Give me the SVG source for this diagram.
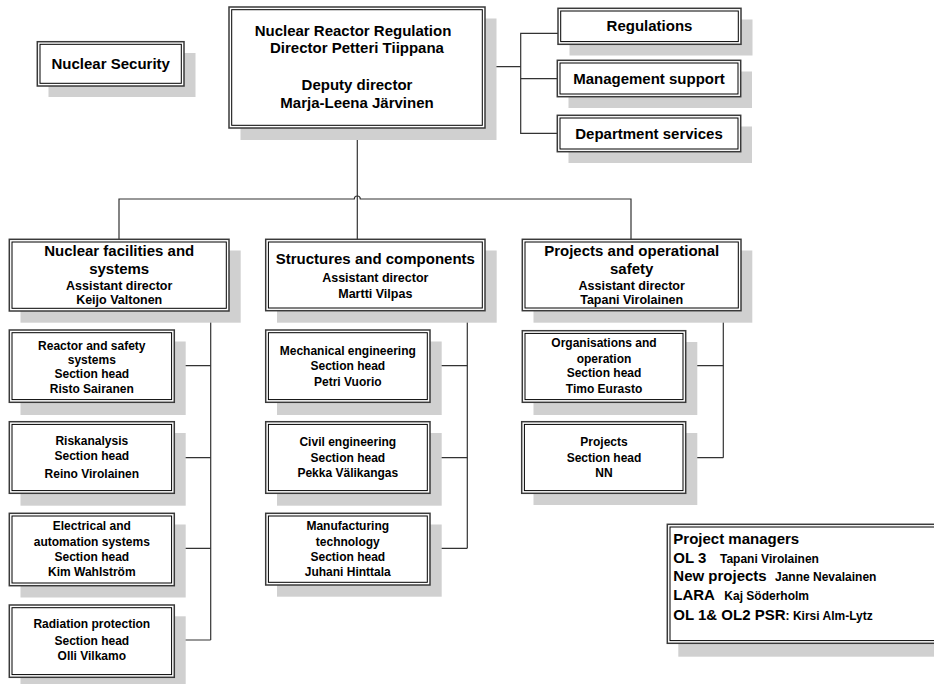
<svg xmlns="http://www.w3.org/2000/svg" width="934" height="684" viewBox="0 0 934 684">
  <style>
    .shadow { fill: #d0d0d0; }
    .frame { fill: #ffffff; stroke: #3a3a3a; stroke-width: 1.5; }
    .inner { fill: none; stroke: #000000; stroke-width: 1; }
    .wire { fill: none; stroke: #333333; stroke-width: 1.2; }
    text { font-family: "Liberation Sans", Arial, sans-serif; font-weight: bold; fill: #000000; }
    .c { text-anchor: middle; }
    .big { font-size: 15px; }
    .med { font-size: 12.5px; }
    .sm { font-size: 12px; }
  </style>

  <!-- connectors -->
  <g id="connectors">
    <!-- director to staff units -->
    <path class="wire" d="M485,66.7 H520.7"/>
    <path class="wire" d="M558,33.3 H520.7 V133.3 H557.3"/>
    <path class="wire" d="M520.7,78.7 H557.3"/>
    <!-- director to departments, with a hop where the lines cross -->
    <path class="wire" d="M357.3,128 V239.3"/>
    <path class="wire" d="M119,239.3 V199 H354.3 A3,3 0 0 1 360.3,199 H631 V239.3"/>
    <!-- Nuclear facilities and systems sections -->
    <path class="wire" d="M210.7,311 V640"/>
    <path class="wire" d="M174.3,365.7 H210.7 M174.3,457.7 H210.7 M174.3,548.3 H210.7 M174.3,640 H210.7"/>
    <!-- Structures and components sections -->
    <path class="wire" d="M467.3,310.7 V548.3"/>
    <path class="wire" d="M430,365.7 H467.3 M430,457.7 H467.3 M430,548.3 H467.3"/>
    <!-- Projects and operational safety sections -->
    <path class="wire" d="M723.3,310.7 V457.7"/>
    <path class="wire" d="M685.7,365.7 H723.3 M685.7,457.7 H723.3"/>
  </g>

  <!-- top level -->
  <g id="nuclear-security">
    <rect class="shadow" x="48.5" y="53" width="147" height="44"/>
    <rect class="frame" x="37.3" y="41.7" width="146.7" height="44.3"/>
    <rect class="inner" x="40" y="44.3" width="141.3" height="39"/>
    <text class="c big" x="110.7" y="69.3">Nuclear Security</text>
  </g>

  <g id="director">
    <rect class="shadow" x="240.5" y="18.5" width="256" height="121.5"/>
    <rect class="frame" x="229" y="7" width="256" height="121"/>
    <rect class="inner" x="231.7" y="9.7" width="250.6" height="115.6"/>
    <text class="c big" x="353" y="36">Nuclear Reactor Regulation</text>
    <text class="c big" x="357" y="53.3">Director Petteri Tiippana</text>
    <text class="c big" x="357" y="90.3">Deputy director</text>
    <text class="c big" x="357" y="108.3">Marja-Leena Järvinen</text>
  </g>

  <g id="regulations">
    <rect class="shadow" x="569.5" y="19.5" width="183" height="36"/>
    <rect class="frame" x="558" y="8.3" width="183" height="36"/>
    <rect class="inner" x="560.7" y="11" width="177.6" height="30.6"/>
    <text class="c big" x="649.5" y="31.3">Regulations</text>
  </g>

  <g id="management-support">
    <rect class="shadow" x="568.5" y="71.5" width="183.5" height="36.5"/>
    <rect class="frame" x="557.3" y="60.3" width="183.4" height="36.4"/>
    <rect class="inner" x="560" y="63" width="178" height="31"/>
    <text class="c big" x="649" y="83.6">Management support</text>
  </g>

  <g id="department-services">
    <rect class="shadow" x="568.5" y="126.5" width="183.5" height="36.5"/>
    <rect class="frame" x="557.3" y="115.3" width="183.4" height="36.4"/>
    <rect class="inner" x="560" y="118" width="178" height="31"/>
    <text class="c big" x="649" y="138.6">Department services</text>
  </g>

  <!-- departments -->
  <g id="nuclear-facilities">
    <rect class="shadow" x="20.5" y="250.5" width="220.2" height="72.2"/>
    <rect class="frame" x="9.3" y="239.3" width="219.7" height="71.7"/>
    <rect class="inner" x="12" y="242" width="214.3" height="66.3"/>
    <text class="c big" x="119.2" y="256">Nuclear facilities and</text>
    <text class="c big" x="119.2" y="274.3">systems</text>
    <text class="c med" x="119.2" y="290.4">Assistant director</text>
    <text class="c med" x="119.2" y="304.4">Keijo Valtonen</text>
  </g>

  <g id="structures-components">
    <rect class="shadow" x="277" y="250.5" width="219.7" height="72.2"/>
    <rect class="frame" x="265.7" y="239.3" width="219.3" height="71.4"/>
    <rect class="inner" x="268.4" y="242" width="213.9" height="66"/>
    <text class="c big" x="375.3" y="263.6">Structures and components</text>
    <text class="c med" x="375.3" y="281.7">Assistant director</text>
    <text class="c med" x="375.3" y="298.4">Martti Vilpas</text>
  </g>

  <g id="projects-operational-safety">
    <rect class="shadow" x="533.5" y="250.5" width="218.8" height="72.2"/>
    <rect class="frame" x="522.3" y="239.3" width="218.7" height="71.4"/>
    <rect class="inner" x="525" y="242" width="213.3" height="66"/>
    <text class="c big" x="631.7" y="256">Projects and operational</text>
    <text class="c big" x="631.7" y="274.3">safety</text>
    <text class="c med" x="631.7" y="290.4">Assistant director</text>
    <text class="c med" x="631.7" y="304.4">Tapani Virolainen</text>
  </g>

  <!-- sections: Nuclear facilities and systems -->
  <g id="reactor-safety-systems">
    <rect class="shadow" x="20.5" y="341.5" width="165.2" height="73.5"/>
    <rect class="frame" x="9.3" y="330" width="165" height="72.3"/>
    <rect class="inner" x="12" y="332.7" width="159.6" height="66.9"/>
    <text class="c sm" x="91.8" y="349.5">Reactor and safety</text>
    <text class="c sm" x="91.8" y="364">systems</text>
    <text class="c sm" x="91.8" y="378">Section head</text>
    <text class="c sm" x="91.8" y="393">Risto Sairanen</text>
  </g>

  <g id="riskanalysis">
    <rect class="shadow" x="20.5" y="433" width="165.2" height="72.7"/>
    <rect class="frame" x="9.3" y="421.7" width="165" height="71.6"/>
    <rect class="inner" x="12" y="424.4" width="159.6" height="66.2"/>
    <text class="c sm" x="91.8" y="445">Riskanalysis</text>
    <text class="c sm" x="91.8" y="459.6">Section head</text>
    <text class="c sm" x="91.8" y="477.6">Reino Virolainen</text>
  </g>

  <g id="electrical-automation">
    <rect class="shadow" x="20.5" y="524.5" width="165.2" height="73"/>
    <rect class="frame" x="9.3" y="513.3" width="165" height="72.4"/>
    <rect class="inner" x="12" y="516" width="159.6" height="67"/>
    <text class="c sm" x="91.8" y="530.3">Electrical and</text>
    <text class="c sm" x="91.8" y="546">automation systems</text>
    <text class="c sm" x="91.8" y="561">Section head</text>
    <text class="c sm" x="91.8" y="576">Kim Wahlström</text>
  </g>

  <g id="radiation-protection">
    <rect class="shadow" x="20.5" y="616.3" width="165.2" height="72"/>
    <rect class="frame" x="9.3" y="605" width="165" height="72.3"/>
    <rect class="inner" x="12" y="607.7" width="159.6" height="66.9"/>
    <text class="c sm" x="91.8" y="628.3">Radiation protection</text>
    <text class="c sm" x="91.8" y="645">Section head</text>
    <text class="c sm" x="91.8" y="660.3">Olli Vilkamo</text>
  </g>

  <!-- sections: Structures and components -->
  <g id="mechanical-engineering">
    <rect class="shadow" x="277" y="341.5" width="164.7" height="73.5"/>
    <rect class="frame" x="265.7" y="330" width="164.3" height="72.3"/>
    <rect class="inner" x="268.4" y="332.7" width="158.9" height="66.9"/>
    <text class="c sm" x="347.8" y="355.3">Mechanical engineering</text>
    <text class="c sm" x="347.8" y="370">Section head</text>
    <text class="c sm" x="347.8" y="386">Petri Vuorio</text>
  </g>

  <g id="civil-engineering">
    <rect class="shadow" x="277" y="433" width="164.7" height="72.7"/>
    <rect class="frame" x="265.7" y="421.7" width="164.3" height="71.6"/>
    <rect class="inner" x="268.4" y="424.4" width="158.9" height="66.2"/>
    <text class="c sm" x="347.8" y="446.3">Civil engineering</text>
    <text class="c sm" x="347.8" y="462">Section head</text>
    <text class="c sm" x="347.8" y="477">Pekka Välikangas</text>
  </g>

  <g id="manufacturing-technology">
    <rect class="shadow" x="277" y="524.5" width="164.7" height="72.2"/>
    <rect class="frame" x="265.7" y="513.3" width="164.3" height="71.7"/>
    <rect class="inner" x="268.4" y="516" width="158.9" height="66.3"/>
    <text class="c sm" x="347.8" y="530.3">Manufacturing</text>
    <text class="c sm" x="347.8" y="546">technology</text>
    <text class="c sm" x="347.8" y="561">Section head</text>
    <text class="c sm" x="347.8" y="576">Juhani Hinttala</text>
  </g>

  <!-- sections: Projects and operational safety -->
  <g id="organisations-operation">
    <rect class="shadow" x="533.5" y="342" width="163.8" height="73"/>
    <rect class="frame" x="522.3" y="330.7" width="163.4" height="71.6"/>
    <rect class="inner" x="525" y="333.4" width="158" height="66.2"/>
    <text class="c sm" x="604" y="347">Organisations and</text>
    <text class="c sm" x="604" y="362.6">operation</text>
    <text class="c sm" x="604" y="377">Section head</text>
    <text class="c sm" x="604" y="393.3">Timo Eurasto</text>
  </g>

  <g id="projects">
    <rect class="shadow" x="533.5" y="433" width="163.8" height="72"/>
    <rect class="frame" x="521.7" y="421.7" width="164" height="71.6"/>
    <rect class="inner" x="524.4" y="424.4" width="158.6" height="66.2"/>
    <text class="c sm" x="604" y="446">Projects</text>
    <text class="c sm" x="604" y="461.6">Section head</text>
    <text class="c sm" x="604" y="477.3">NN</text>
  </g>

  <!-- project managers list (runs past the right edge) -->
  <g id="project-managers">
    <rect class="shadow" x="678.3" y="535.7" width="270" height="121"/>
    <rect class="frame" x="667.3" y="524.3" width="280" height="119"/>
    <rect class="inner" x="670" y="527" width="280" height="113.6"/>
    <text class="big" x="673.3" y="543.6">Project managers</text>
    <text x="673.3" y="563"><tspan class="big">OL 3</tspan><tspan class="sm" x="720">Tapani Virolainen</tspan></text>
    <text x="673.3" y="581"><tspan class="big">New projects</tspan><tspan class="sm" x="775">Janne Nevalainen</tspan></text>
    <text x="673.3" y="599.6"><tspan class="big">LARA</tspan><tspan class="sm" x="724.3">Kaj Söderholm</tspan></text>
    <text x="673.3" y="620.3"><tspan class="big">OL 1&amp; OL2 PSR</tspan><tspan class="sm">: Kirsi Alm-Lytz</tspan></text>
  </g>
</svg>
